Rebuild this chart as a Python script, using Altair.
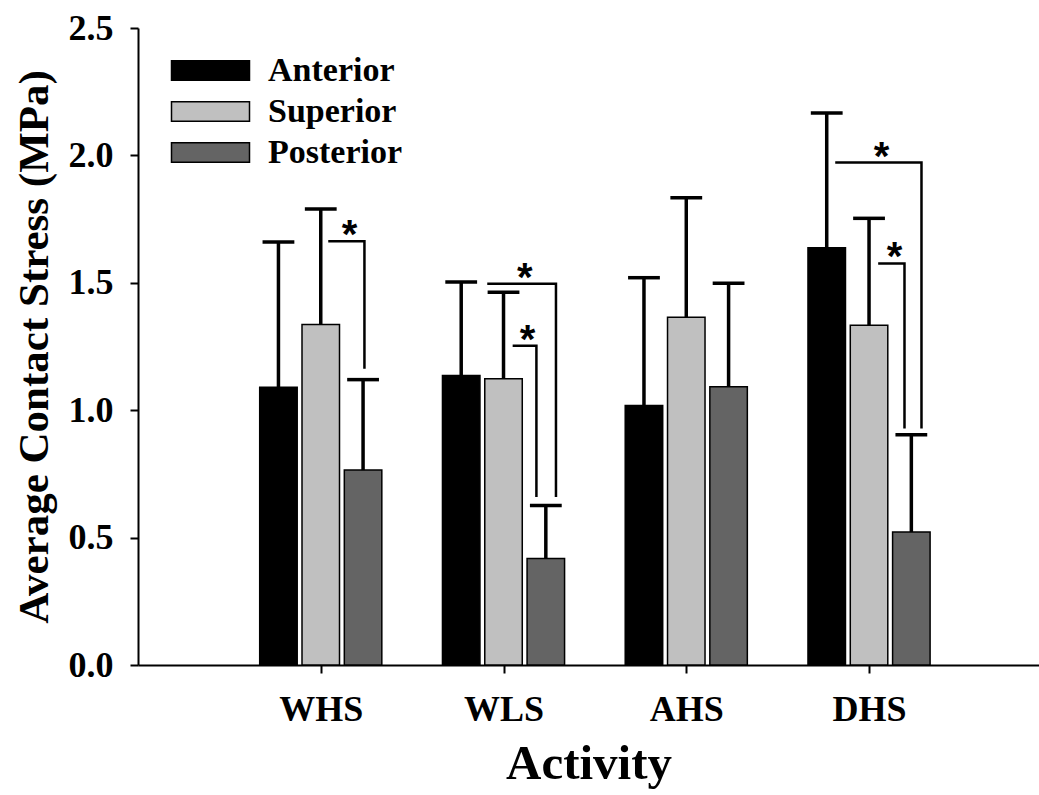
import altair as alt
import pandas as pd

# ---------------- data ----------------
activities = ["WHS", "WLS", "AHS", "DHS"]
regions = ["Anterior", "Superior", "Posterior"]
anterior_mean = [1.09, 1.136, 1.018, 1.638]
superior_mean = [1.336, 1.123, 1.365, 1.333]
posterior_mean = [0.765, 0.418, 1.092, 0.522]
anterior_sd = [0.57, 0.367, 0.502, 0.528]
superior_sd = [0.454, 0.34, 0.469, 0.42]
posterior_sd = [0.355, 0.208, 0.406, 0.382]

# significance brackets (activity, compared regions, bracket height, lower end)
bracket_activity = ["WHS", "WLS", "WLS", "DHS", "DHS"]
bracket_from = ["Superior", "Anterior", "Superior", "Anterior", "Superior"]
bracket_to = ["Posterior", "Posterior", "Posterior", "Posterior", "Posterior"]
bracket_level = [1.663, 1.496, 1.253, 1.972, 1.576]
bracket_bottom = [1.163, 0.659, 0.659, 0.928, 0.928]

y_ticks = [0.0, 0.5, 1.0, 1.5, 2.0, 2.5]

# ---------------- layout (in category-step units) ----------------
BAR_STEP = 0.2315
BAR_HALF = 0.1026
CAP_HALF = 0.087
start_nudge = [0.041, 0.1425, 0.05, 0.0465, 0.05]
end_nudge = [0.0075, 0.0555, -0.0515, 0.0555, -0.0375]

means = [anterior_mean, superior_mean, posterior_mean]
sds = [anterior_sd, superior_sd, posterior_sd]


def center(act, reg):
    return activities.index(act) + 1 + (regions.index(reg) - 1) * BAR_STEP


rows = []
for i, act in enumerate(activities):
    for j, reg in enumerate(regions):
        c = center(act, reg)
        m = means[j][i]
        rows.append(dict(activity=act, region=reg, xc=c, x0=c - BAR_HALF, x1=c + BAR_HALF,
                         c0=c - CAP_HALF, c1=c + CAP_HALF, mean=m, top=m + sds[j][i]))
bars = pd.DataFrame(rows)

brows, srows = [], []
for k in range(len(bracket_activity)):
    xs = center(bracket_activity[k], bracket_from[k]) + start_nudge[k]
    xe = center(bracket_activity[k], bracket_to[k]) + end_nudge[k]
    brows += [dict(id=k, o=0, x=xs, y=bracket_level[k]),
              dict(id=k, o=1, x=xe, y=bracket_level[k]),
              dict(id=k, o=2, x=xe, y=bracket_bottom[k])]
    srows.append(dict(id=k, x=(xs + xe) / 2 + 0.017, y=bracket_level[k]))
brk = pd.DataFrame(brows)
stars = pd.DataFrame(srows)

FONT = "Liberation Serif"
label_expr = "[" + ",".join(["''"] + [f"'{a}'" for a in activities]) + "][datum.value] || ''"

xscale = alt.Scale(domain=[0, 4.93], nice=False, zero=False)
yscale = alt.Scale(domain=[0, 2.5], nice=False, zero=True)

xaxis = alt.Axis(values=[1, 2, 3, 4], labelExpr=label_expr, title="Activity", grid=False,
                 labelFontSize=36, titleFontSize=49, labelPadding=19, titlePadding=12)
yaxis = alt.Axis(values=y_ticks, format=".1f", title="Average Contact Stress (MPa)", grid=False,
                 labelFontSize=36, titleFontSize=43, labelPadding=17, titlePadding=12)

base = alt.Chart(bars)

bar_layer = base.mark_bar(stroke="black", strokeWidth=1.5).encode(
    x=alt.X("x0:Q", scale=xscale, axis=xaxis),
    x2="x1:Q",
    y=alt.Y("mean:Q", scale=yscale, axis=yaxis),
    y2=alt.datum(0),
    color=alt.Color("region:N",
                    scale=alt.Scale(domain=regions, range=["#000000", "#c0c0c0", "#646464"]),
                    legend=alt.Legend(title=None, orient="none", legendX=52, legendY=22,
                                      symbolType="M-2,-0.5H2V0.5H-2Z", symbolSize=1521,
                                      symbolStrokeColor="black", symbolStrokeWidth=1.5,
                                      symbolOpacity=1, labelFont=FONT, labelFontWeight="bold",
                                      labelFontSize=34, labelColor="black", labelOffset=37,
                                      rowPadding=3, padding=0)),
)

err_line = base.mark_rule(color="black", strokeWidth=3.5).encode(
    x="xc:Q", y="mean:Q", y2="top:Q")
err_cap = base.mark_rule(color="black", strokeWidth=3.5).encode(
    x="c0:Q", x2="c1:Q", y="top:Q")

bracket_layer = alt.Chart(brk).mark_line(color="black", strokeWidth=2.5, strokeJoin="miter").encode(
    x="x:Q", y="y:Q", detail="id:N", order="o:Q")

star_layer = alt.Chart(stars).mark_text(text="*", font="Liberation Sans", fontWeight="bold",
                                        fontSize=40, baseline="alphabetic", dy=7,
                                        color="black").encode(x="x:Q", y="y:Q")

chart = alt.layer(bar_layer, err_line, err_cap, bracket_layer, star_layer).properties(
    width=901, height=637,
    autosize=alt.AutoSizeParams(type="none"),
    padding={"left": 138, "top": 28, "right": 0, "bottom": 130},
    background="white",
).configure_view(stroke=None).configure_axis(
    domainColor="black", domainWidth=2, tickColor="black", tickWidth=2, tickSize=8,
    labelFont=FONT, labelFontWeight="bold", labelColor="black",
    titleFont=FONT, titleFontWeight="bold", titleColor="black",
)

chart.save("out.html", embed_options={"renderer": "svg", "actions": False})
